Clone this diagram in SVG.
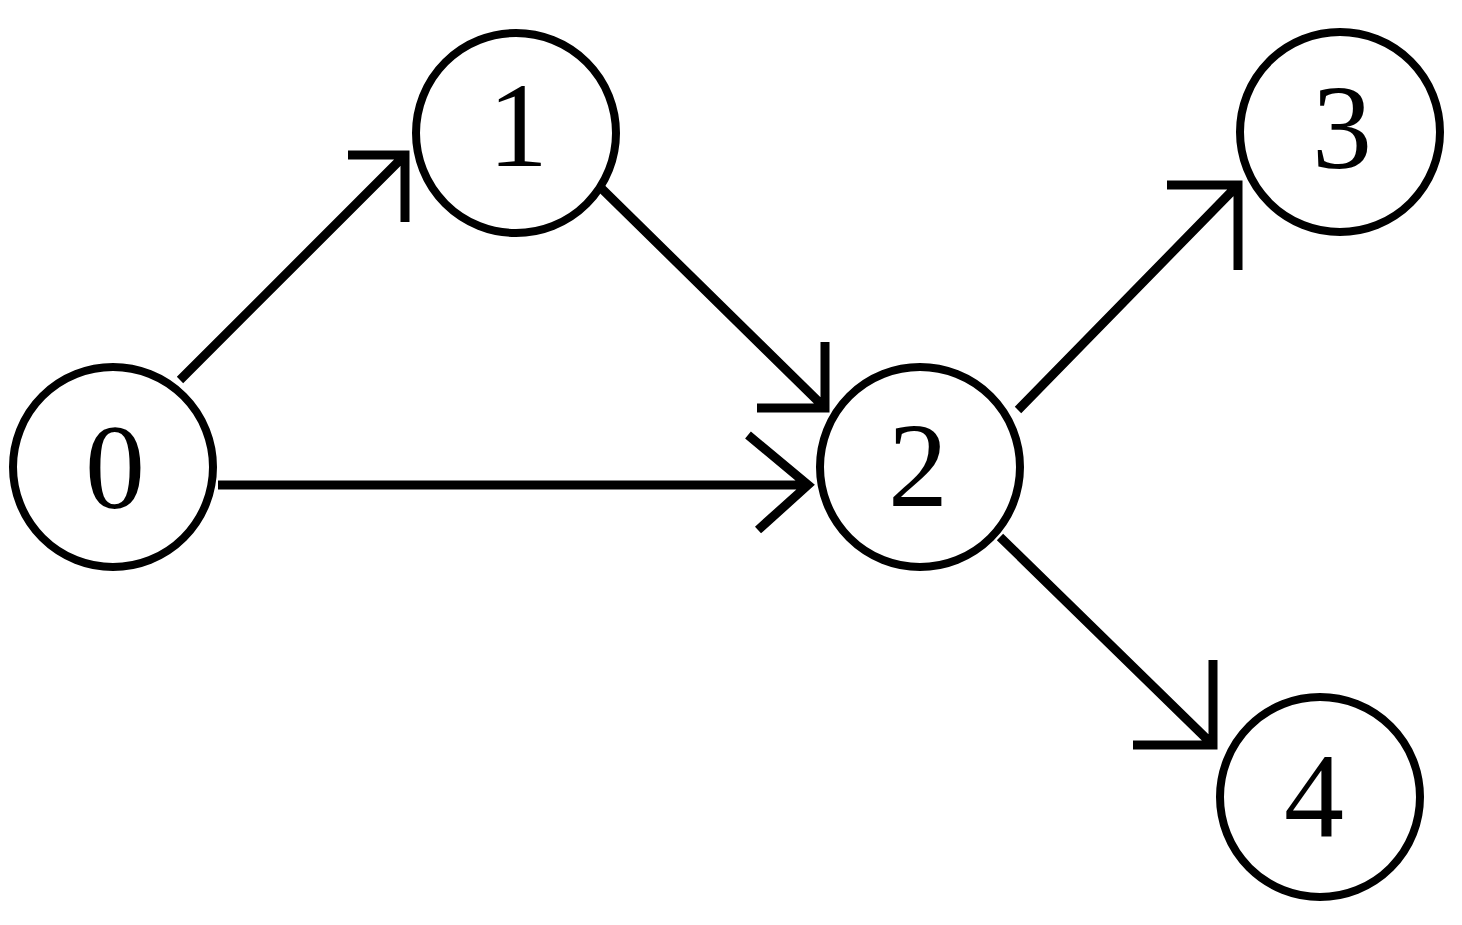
<svg xmlns="http://www.w3.org/2000/svg" width="1462" height="925" viewBox="0 0 1462 925">
<style>
.n{fill:#fff;stroke:#000;stroke-width:8}
.t{font-family:"Liberation Serif",serif;font-size:120px;text-anchor:middle;fill:#000}
.e{fill:none;stroke:#000;stroke-width:9}
</style>
<rect width="1462" height="925" fill="#fff"/>
<g id="connectors">
<path class="e" d="M180,380L405,155M348,155H405V222"/>
<path class="e" d="M598,185L825,408M757,408H825V342"/>
<path class="e" d="M218,485H808M748,435L808,485L758,530"/>
<path class="e" d="M1018,410L1238,185M1167,185H1238V270"/>
<path class="e" d="M1000,537L1213,745M1133,745H1213V660"/>
</g>
<g id="n0"><circle class="n" cx="113" cy="467" r="100"/><text class="t" x="115" y="508">0</text></g>
<g id="n1"><circle class="n" cx="516" cy="133" r="100"/><text class="t" x="518" y="166">1</text></g>
<g id="n2"><circle class="n" cx="920" cy="467" r="100"/><text class="t" x="918" y="506">2</text></g>
<g id="n3"><circle class="n" cx="1340" cy="132" r="100"/><text class="t" x="1342" y="168">3</text></g>
<g id="n4"><circle class="n" cx="1320" cy="797" r="100"/><text class="t" x="1314" y="836">4</text></g>
</svg>
